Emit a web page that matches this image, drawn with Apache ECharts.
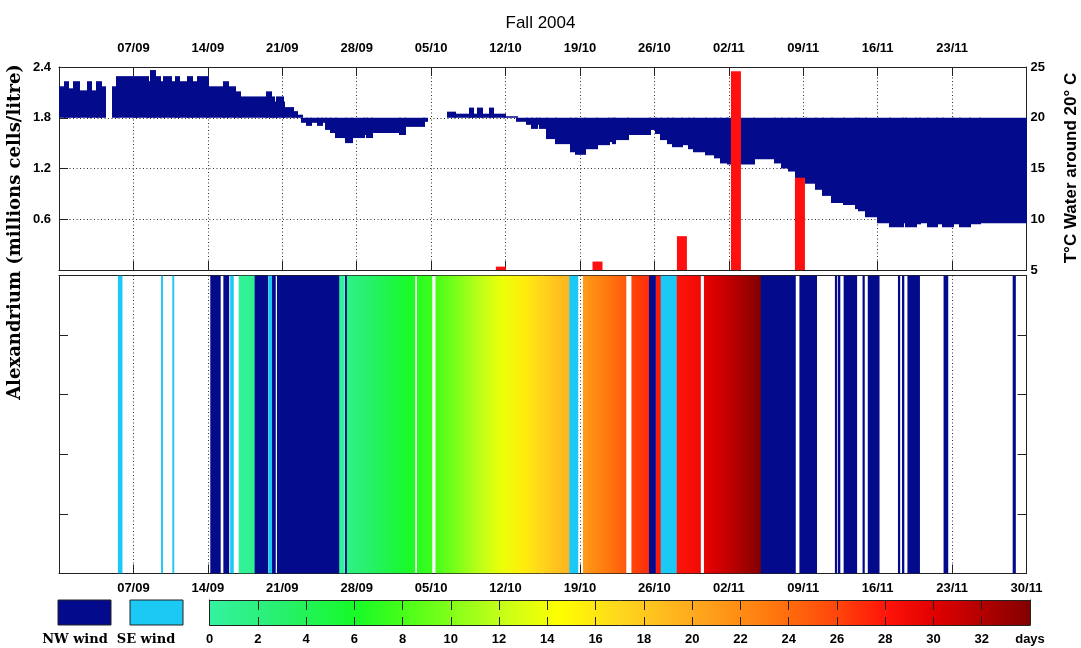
<!DOCTYPE html>
<html>
<head>
<meta charset="utf-8">
<title>Fall 2004</title>
<script src="https://cdn.jsdelivr.net/npm/echarts@6/dist/echarts.min.js"></script>
<style>
  html, body { margin: 0; padding: 0; background: #fff; }
  #chart { width: 1081px; height: 648px; }
</style>
</head>
<body>
<div id="chart"></div>
<script>
// x values are days counted from 31/08/2004
const firstDay = Date.UTC(2004, 7, 31);
const dayMax = 91;

// water temperature (deg C), step values starting at each day
const waterTemp = [
  [0, 23.1], [0.5, 23.6], [0.8, 22.9], [1.4, 23.6], [1.8, 22.7], [2.7, 23.6],
  [3.0, 22.7], [3.5, 23.6], [3.9, 23.1], [4.31, null], [5.06, 23.1], [5.45, 24.1],
  [7.07, 23.6], [7.32, 24.1], [8.3, 23.6], [8.62, 24.7], [8.94, 24.1], [9.49, 23.6],
  [9.82, 24.1], [10.47, 23.6], [10.95, 24.1], [11.28, 23.6], [12.08, 24.1], [12.5, 23.6],
  [13.05, 24.1], [13.93, 23.1], [15.49, 23.6], [15.81, 23.1], [16.46, 22.6], [16.94, 22.1],
  [19.53, 22.6], [19.86, 22.1], [20.18, 21.6], [20.5, 22.1], [20.99, 21.6], [21.15, 21.05],
  [21.96, 20.65], [22.35, 20.3], [22.79, 19.5], [23.27, 19.2], [23.7, 19.5], [24.3, 19.2],
  [24.7, 19.5], [25.05, 18.8], [25.53, 18.5], [26.02, 18.0], [26.99, 17.5], [27.47, 18.0],
  [28.6, 18.3], [28.9, 18.0], [29.41, 18.5], [32.0, 18.3], [32.49, 19.1], [34.27, 19.6],
  [34.6, 20.0], [36.58, 20.6], [37.23, 20.4], [38.64, 21.0], [38.93, 20.4], [39.4, 21.0],
  [39.77, 20.4], [40.53, 21.0], [40.81, 20.4], [41.94, 20.15], [43.04, 19.6], [43.98, 19.3],
  [44.45, 18.9], [44.92, 19.3], [45.23, 18.9], [45.89, 17.9], [46.69, 17.4], [48.15, 16.6],
  [48.62, 16.35], [49.46, 16.9], [50.59, 17.3], [51.72, 17.6], [52.1, 17.4], [52.29, 17.8],
  [53.51, 18.3], [55.58, 18.8], [56.11, 18.4], [56.59, 17.8], [57.24, 17.4], [57.73, 17.1],
  [58.54, 17.3], [59.19, 16.9], [59.68, 16.6], [60.81, 16.3], [61.63, 16.0], [62.26, 15.5],
  [62.76, 15.9], [62.92, 15.4], [65.36, 15.9], [67.3, 15.5], [67.95, 15.0], [68.6, 14.7],
  [69.26, 14.0], [70.23, 13.5], [71.19, 12.9], [71.85, 12.3], [72.66, 11.6], [73.8, 11.4],
  [74.93, 11.0], [75.24, 10.8], [75.9, 10.2], [77.03, 9.6], [78.16, 9.2], [79.29, 9.6],
  [79.64, 9.2], [80.6, 9.5], [80.98, 9.6], [81.73, 9.2], [82.49, 9.5], [83.14, 9.2],
  [84.08, 9.5], [84.74, 9.2], [85.68, 9.5], [86.62, 9.6], [91, 9.6]
];

// Alexandrium (millions cells / litre)
const alexandrium = [[41.56, 0.04], [50.65, 0.1], [58.59, 0.4], [63.67, 2.35], [69.69, 1.09]];

// wind events [start day, end day]
const windNW = [
  [14.23, 15.17], [15.46, 15.97], [18.4, 19.64], [20.0, 20.35], [20.5, 26.32], [26.9, 26.98],
  [55.49, 56.1], [66.0, 69.26], [69.64, 71.26], [72.98, 73.15], [73.26, 73.45], [73.8, 75.03],
  [75.58, 75.75], [76.07, 77.14], [78.91, 79.08], [79.29, 79.47], [79.8, 80.94], [83.2, 83.6],
  [89.7, 89.96]
];
const windSE = [
  [5.54, 5.93], [9.6, 9.69], [10.66, 10.75], [16.1, 16.4], [19.69, 20.0], [47.99, 48.8],
  [56.59, 58.05]
];
// calm spells [start day, end day, days count at start, days count at end]
const calmSpells = [
  [16.9, 18.4, 0.3, 1.0], [26.32, 26.84, 0.3, 0.6], [26.98, 33.47, 1.5, 6.5],
  [33.66, 35.07, 6.8, 7.5], [35.41, 47.99, 8.0, 19.5], [49.28, 53.32, 21.0, 25.0],
  [53.84, 55.49, 26.0, 27.0], [56.1, 56.59, 27.5, 28.0], [58.05, 60.33, 28.0, 29.0],
  [60.66, 66.0, 29.5, 34.0]
];

// colour bar ticks (days)
const dayTicks = [0, 2, 4, 6, 8, 10, 12, 14, 16, 18, 20, 22, 24, 26, 28, 30, 32];

const NAVY = '#040a8c';
const CYAN = '#1cc8f4';
const RED = '#ff1010';
const FONT = 'Liberation Sans';

const colorStops = [
  [0, [52, 242, 160]], [3, [40, 240, 110]], [6, [22, 250, 40]], [8, [70, 255, 25]],
  [10, [130, 255, 25]], [12, [195, 255, 25]], [14.5, [255, 255, 0]], [17, [255, 215, 30]],
  [20, [255, 170, 30]], [23, [255, 125, 15]], [26, [255, 70, 10]], [28, [255, 20, 10]],
  [30, [225, 0, 0]], [32, [180, 0, 0]], [34, [130, 0, 0]]
];

function dayColor(v) {
  for (let i = 1; i < colorStops.length; i++) {
    if (v <= colorStops[i][0]) {
      const a = colorStops[i - 1], b = colorStops[i];
      const t = (v - a[0]) / (b[0] - a[0]);
      const c = a[1].map((x, k) => Math.round(x + (b[1][k] - x) * Math.max(0, t)));
      return 'rgb(' + c.join(',') + ')';
    }
  }
  return 'rgb(130,0,0)';
}

function gradient(v0, v1) {
  const stops = [];
  for (let k = 0; k <= 6; k++) {
    stops.push({ offset: k / 6, color: dayColor(v0 + (v1 - v0) * k / 6) });
  }
  return new echarts.graphic.LinearGradient(0, 0, 1, 0, stops);
}

function pad(n) { return (n < 10 ? '0' : '') + n; }
function dayLabel(v) {
  const dt = new Date(firstDay + v * 86400000);
  return pad(dt.getUTCDate()) + '/' + pad(dt.getUTCMonth() + 1);
}

function labels(extra) {
  return Object.assign({ color: '#000', fontFamily: FONT, fontWeight: 'bold', fontSize: 13 }, extra);
}
// onZero off, otherwise the right axes jump to the x = 0 edge
function line() { return { show: true, onZero: false, lineStyle: { color: '#222', width: 1 } }; }
function dots() { return { show: true, lineStyle: { color: '#333', type: [1, 2.5], width: 1 } }; }
function ticks(len) { return { show: true, inside: true, length: len || 9, lineStyle: { color: '#222', width: 1 } }; }
const none = () => ({ show: false });

function stripe(fillFn) {
  return function (params, api) {
    const a = api.coord([api.value(0), 5]);
    const b = api.coord([api.value(1), 0]);
    const w = Math.max(b[0] - a[0], 1.5);
    return {
      type: 'rect',
      shape: { x: a[0], y: a[1], width: w + 0.4, height: b[1] - a[1] },
      style: { fill: fillFn(api) }
    };
  };
}

const chart = echarts.init(document.getElementById('chart'), null, { renderer: 'canvas' });

chart.setOption({
  animation: false,
  backgroundColor: '#fff',
  title: {
    text: 'Fall 2004', left: 'center', top: 10,
    textStyle: { fontFamily: FONT, fontSize: 17, fontWeight: 'normal', color: '#000' }
  },
  grid: [
    { left: 59, right: 54.5, top: 67, height: 203 },
    { left: 59, right: 54.5, top: 275.5, height: 298 },
    { left: 209.5, right: 51, top: 600, height: 25 }
  ],
  xAxis: [
    { gridIndex: 0, type: 'value', position: 'top', min: 0, max: dayMax, interval: 7,
      axisLine: line(), axisTick: ticks(), splitLine: dots(),
      axisLabel: labels({ margin: 12, formatter: v => (v === 0 || v === dayMax) ? '' : dayLabel(v) }) },
    { gridIndex: 0, type: 'value', position: 'bottom', min: 0, max: dayMax, interval: 7,
      axisLine: line(), axisTick: ticks(), splitLine: none(), axisLabel: none() },
    { gridIndex: 1, type: 'value', position: 'bottom', min: 0, max: dayMax, interval: 7,
      axisLine: line(), axisTick: ticks(), splitLine: dots(),
      axisLabel: labels({ margin: 8, formatter: v => v === 0 ? '' : dayLabel(v) }) },
    { gridIndex: 1, type: 'value', position: 'top', min: 0, max: dayMax, interval: 7,
      axisLine: line(), axisTick: none(), splitLine: none(), axisLabel: none() },
    { gridIndex: 2, type: 'value', position: 'bottom', min: 0, max: 34, interval: 2, z: 5,
      axisLine: line(), axisTick: ticks(8), splitLine: none(),
      axisLabel: labels({ margin: 8, showMaxLabel: true, formatter: v => v === 34 ? 'days' : String(v) }) },
    { gridIndex: 2, type: 'value', position: 'top', min: 0, max: 34, interval: 2, z: 5,
      axisLine: line(), axisTick: ticks(10), splitLine: none(), axisLabel: none() }
  ],
  yAxis: [
    { gridIndex: 0, type: 'value', position: 'left', min: 0, max: 2.4, interval: 0.6,
      axisLine: line(), axisTick: ticks(), splitLine: dots(),
      axisLabel: labels({ margin: 8, formatter: v => v === 0 ? '' : v.toFixed(1) }) },
    { gridIndex: 0, type: 'value', position: 'right', min: 5, max: 25, interval: 5,
      axisLine: line(), axisTick: ticks(), splitLine: none(),
      axisLabel: labels({ margin: 4 }) },
    { gridIndex: 1, type: 'value', position: 'left', min: 0, max: 5, interval: 1,
      axisLine: line(), axisTick: ticks(), splitLine: none(), axisLabel: none() },
    { gridIndex: 1, type: 'value', position: 'right', min: 0, max: 5, interval: 1,
      axisLine: line(), axisTick: ticks(), splitLine: none(), axisLabel: none() },
    { gridIndex: 2, type: 'value', position: 'left', min: 0, max: 1, z: 5,
      axisLine: line(), axisTick: none(), splitLine: none(), axisLabel: none() },
    { gridIndex: 2, type: 'value', position: 'right', min: 0, max: 1, z: 5,
      axisLine: line(), axisTick: none(), splitLine: none(), axisLabel: none() }
  ],
  graphic: [
    { type: 'text', x: 15, y: 232, rotation: Math.PI / 2,
      style: { text: 'Alexandrium (millions cells/litre)', fill: '#000',
        font: 'bold 18px "DejaVu Serif"', textAlign: 'center', textVerticalAlign: 'middle' } },
    { type: 'text', x: 1071, y: 168, rotation: Math.PI / 2,
      style: { text: 'T°C Water around 20° C', fill: '#000',
        font: 'bold 17px "Liberation Sans"', textAlign: 'center', textVerticalAlign: 'middle' } },
    { type: 'rect', shape: { x: 58, y: 600, width: 53, height: 25 },
      style: { fill: NAVY, stroke: '#222', lineWidth: 1 } },
    { type: 'rect', shape: { x: 130, y: 600, width: 53, height: 25 },
      style: { fill: CYAN, stroke: '#222', lineWidth: 1 } },
    { type: 'text', x: 75, y: 640,
      style: { text: 'NW wind', fill: '#000', font: 'bold 13px "DejaVu Serif"', textAlign: 'center', textVerticalAlign: 'middle' } },
    { type: 'text', x: 146, y: 640,
      style: { text: 'SE wind', fill: '#000', font: 'bold 13px "DejaVu Serif"', textAlign: 'center', textVerticalAlign: 'middle' } }
  ],
  series: [
    {
      name: 'Water temperature', type: 'custom', xAxisIndex: 0, yAxisIndex: 1, clip: true, z: 2,
      data: waterTemp,
      renderItem: function (params, api) {
        const i = params.dataIndex;
        const cur = waterTemp[i], next = waterTemp[i + 1];
        if (!next || cur[1] == null) return null;
        const p0 = api.coord([cur[0], 20]);
        const p1 = api.coord([next[0], cur[1]]);
        return {
          type: 'rect',
          shape: { x: Math.floor(p0[0]), y: Math.min(p0[1], p1[1]),
            width: Math.ceil(p1[0]) - Math.floor(p0[0]) + 1, height: Math.abs(p1[1] - p0[1]) },
          style: { fill: NAVY }
        };
      }
    },
    {
      name: 'Alexandrium', type: 'bar', xAxisIndex: 0, yAxisIndex: 0, z: 4,
      barWidth: 10, itemStyle: { color: RED }, data: alexandrium
    },
    {
      name: 'Calm days', type: 'custom', xAxisIndex: 2, yAxisIndex: 2, clip: true, z: 3,
      data: calmSpells,
      renderItem: stripe(api => gradient(api.value(2), api.value(3)))
    },
    {
      name: 'NW wind', type: 'custom', xAxisIndex: 2, yAxisIndex: 2, clip: true, z: 3,
      data: windNW, renderItem: stripe(() => NAVY)
    },
    {
      name: 'SE wind', type: 'custom', xAxisIndex: 2, yAxisIndex: 2, clip: true, z: 3,
      data: windSE, renderItem: stripe(() => CYAN)
    },
    {
      name: 'Days scale', type: 'custom', xAxisIndex: 4, yAxisIndex: 4, clip: true, z: 3,
      data: dayTicks,
      renderItem: function (params, api) {
        const v = api.value(0);
        const a = api.coord([v, 1]);
        const b = api.coord([v + 2, 0]);
        return {
          type: 'rect',
          shape: { x: a[0], y: a[1], width: b[0] - a[0] + 0.5, height: b[1] - a[1] },
          style: { fill: gradient(v, v + 2) }
        };
      }
    }
  ]
});
</script>
</body>
</html>
